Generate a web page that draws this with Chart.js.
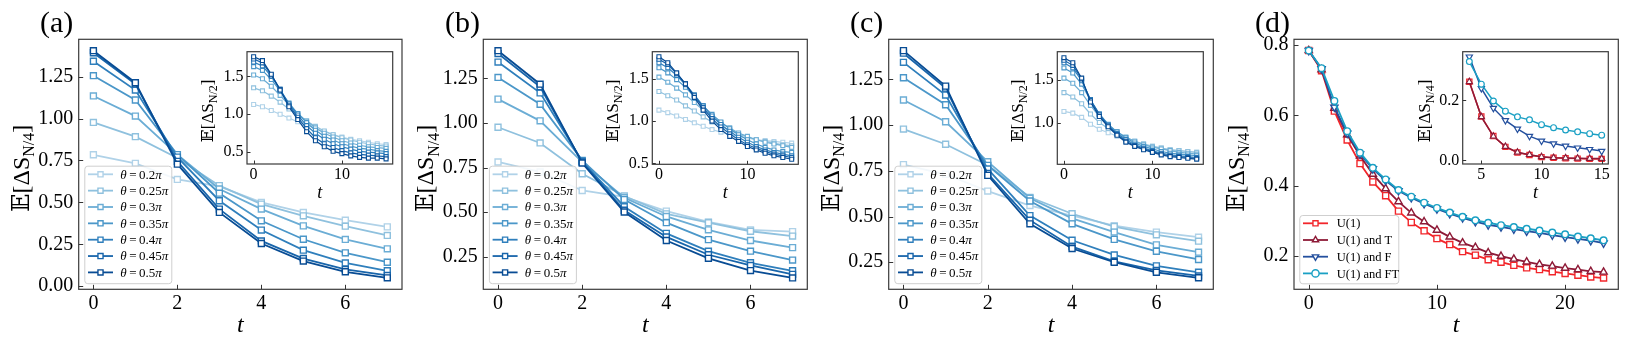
<!DOCTYPE html>
<html><head><meta charset="utf-8">
<script src="https://cdn.jsdelivr.net/npm/chart.js@4.4.1/dist/chart.umd.min.js"></script>
<style>
html,body{margin:0;padding:0;background:#fff;width:1627px;height:346px;overflow:hidden;position:relative;}
canvas{position:absolute;}
</style></head><body>
<script>
const SERIF='"Liberation Serif","Times New Roman","DejaVu Serif","DejaVu Sans",serif';

// ---------- data ----------
const thetaLabels=['0.2','0.25','0.3','0.35','0.4','0.45','0.5'];
const bluesColors=['#b0d2e8','#8fc1de','#6badd5','#4b97c9','#2f7fbc','#1865ab','#084c94'];
const tMain=[0,1,2,3,4,5,6,7];
const tInset=[0,1,2,3,4,5,6,7,8,9,10,11,12,13,14,15];
const tD=[0,1,2,3,4,5,6,7,8,9,10,11,12,13,14,15,16,17,18,19,20,21,22,23];
const tDInset=[4,5,6,7,8,9,10,11,12,13,14,15];

const mainA=[
 [0.784,0.733,0.637,0.595,0.500,0.440,0.394,0.354],
 [0.977,0.892,0.765,0.600,0.490,0.420,0.358,0.303],
 [1.135,1.015,0.785,0.580,0.460,0.360,0.279,0.223],
 [1.256,1.111,0.785,0.555,0.390,0.280,0.199,0.143],
 [1.342,1.170,0.770,0.510,0.335,0.215,0.139,0.092],
 [1.393,1.206,0.745,0.460,0.270,0.165,0.100,0.064],
 [1.405,1.214,0.728,0.440,0.255,0.150,0.086,0.050]];
const insetA=[
 [1.13,1.10,1.05,1.00,0.95,0.90,0.86,0.81,0.77,0.73,0.70,0.67,0.65,0.63,0.61,0.60],
 [1.35,1.31,1.24,1.16,1.07,0.99,0.91,0.84,0.78,0.73,0.69,0.66,0.63,0.61,0.59,0.58],
 [1.52,1.47,1.37,1.25,1.12,1.01,0.91,0.82,0.75,0.70,0.65,0.62,0.59,0.57,0.56,0.55],
 [1.63,1.58,1.46,1.31,1.15,1.01,0.89,0.79,0.71,0.66,0.61,0.58,0.55,0.54,0.52,0.51],
 [1.69,1.64,1.50,1.33,1.14,0.99,0.85,0.75,0.67,0.61,0.57,0.54,0.51,0.50,0.49,0.48],
 [1.73,1.68,1.52,1.33,1.12,0.96,0.81,0.69,0.61,0.56,0.52,0.49,0.47,0.46,0.45,0.44],
 [1.76,1.71,1.53,1.32,1.10,0.93,0.77,0.65,0.57,0.51,0.48,0.45,0.43,0.42,0.42,0.41]];
const mainB=[
 [0.781,0.725,0.621,0.585,0.505,0.445,0.400,0.390],
 [0.976,0.888,0.715,0.590,0.490,0.440,0.392,0.365],
 [1.134,1.012,0.780,0.580,0.475,0.400,0.340,0.300],
 [1.256,1.105,0.790,0.570,0.440,0.345,0.280,0.230],
 [1.342,1.169,0.785,0.530,0.380,0.280,0.215,0.170],
 [1.390,1.203,0.780,0.510,0.360,0.260,0.200,0.150],
 [1.406,1.218,0.775,0.500,0.340,0.240,0.171,0.130]];
const insetB=[
 [1.13,1.10,1.06,1.02,0.98,0.94,0.90,0.87,0.84,0.82,0.80,0.78,0.77,0.76,0.75,0.74],
 [1.35,1.30,1.25,1.18,1.12,1.05,0.99,0.94,0.89,0.85,0.81,0.78,0.76,0.74,0.72,0.71],
 [1.52,1.46,1.39,1.31,1.22,1.13,1.05,0.98,0.92,0.86,0.82,0.78,0.75,0.73,0.71,0.69],
 [1.63,1.57,1.49,1.40,1.29,1.18,1.08,0.99,0.91,0.84,0.78,0.73,0.69,0.66,0.64,0.63],
 [1.69,1.63,1.54,1.43,1.31,1.18,1.06,0.96,0.88,0.81,0.75,0.70,0.66,0.63,0.61,0.59],
 [1.73,1.67,1.56,1.44,1.30,1.16,1.03,0.93,0.85,0.78,0.72,0.68,0.64,0.61,0.59,0.57],
 [1.76,1.69,1.57,1.44,1.28,1.13,1.00,0.90,0.82,0.76,0.70,0.66,0.62,0.59,0.57,0.55]];
const mainC=[
 [0.784,0.731,0.639,0.560,0.505,0.450,0.415,0.387],
 [0.978,0.895,0.780,0.605,0.515,0.445,0.400,0.365],
 [1.137,1.018,0.800,0.600,0.490,0.415,0.345,0.305],
 [1.259,1.111,0.780,0.585,0.460,0.375,0.310,0.265],
 [1.343,1.164,0.760,0.505,0.370,0.290,0.230,0.195],
 [1.393,1.202,0.735,0.480,0.335,0.255,0.205,0.175],
 [1.407,1.213,0.725,0.460,0.325,0.250,0.195,0.165]];
const insetC=[
 [1.13,1.11,1.06,0.98,0.92,0.88,0.84,0.80,0.77,0.74,0.72,0.70,0.68,0.67,0.66,0.65],
 [1.35,1.30,1.22,1.10,1.00,0.93,0.87,0.82,0.78,0.75,0.72,0.70,0.68,0.67,0.66,0.65],
 [1.52,1.46,1.35,1.20,1.07,0.97,0.89,0.83,0.78,0.74,0.71,0.69,0.67,0.65,0.64,0.63],
 [1.64,1.58,1.45,1.26,1.10,0.98,0.89,0.82,0.76,0.72,0.69,0.66,0.64,0.63,0.62,0.61],
 [1.70,1.64,1.49,1.27,1.10,0.97,0.87,0.80,0.74,0.70,0.67,0.64,0.62,0.61,0.60,0.59],
 [1.73,1.67,1.51,1.26,1.09,0.96,0.86,0.78,0.73,0.69,0.66,0.63,0.61,0.60,0.59,0.58],
 [1.76,1.70,1.52,1.24,1.07,0.95,0.85,0.77,0.72,0.68,0.65,0.62,0.60,0.59,0.58,0.57]];

const dLabels=['U(1)','U(1) and T','U(1) and F','U(1) and FT'];
const dColors=['#f2262b','#8e1a37','#24509e','#1aa0c4'];
const dMarkers=['rect','triangle','triangle','circle'];
const dRotations=[0,0,180,0];
const mainD=[
 [0.784,0.727,0.612,0.530,0.463,0.411,0.372,0.328,0.296,0.272,0.250,0.233,0.213,0.203,0.190,0.183,0.174,0.167,0.162,0.156,0.151,0.146,0.141,0.138],
 [0.784,0.730,0.620,0.545,0.485,0.433,0.392,0.355,0.323,0.298,0.274,0.255,0.238,0.225,0.210,0.200,0.192,0.184,0.177,0.172,0.166,0.162,0.157,0.155],
 [0.784,0.732,0.623,0.549,0.490,0.448,0.415,0.386,0.366,0.349,0.334,0.321,0.309,0.298,0.289,0.283,0.277,0.271,0.266,0.260,0.254,0.249,0.244,0.237],
 [0.784,0.734,0.641,0.555,0.494,0.451,0.418,0.388,0.369,0.352,0.337,0.324,0.312,0.302,0.295,0.288,0.283,0.278,0.273,0.267,0.262,0.256,0.251,0.245]];
const insetD=[
 [0.262,0.146,0.081,0.045,0.026,0.018,0.011,0.009,0.007,0.006,0.005,0.005],
 [0.262,0.145,0.080,0.046,0.027,0.019,0.012,0.009,0.008,0.007,0.006,0.006],
 [0.345,0.240,0.174,0.133,0.105,0.081,0.065,0.056,0.048,0.042,0.037,0.031],
 [0.329,0.254,0.198,0.164,0.145,0.135,0.119,0.109,0.101,0.095,0.089,0.084]];

// tick values
const ticksMainAY=[0,0.25,0.5,0.75,1.0,1.25];
const ticksMainBY=[0.25,0.5,0.75,1.0,1.25];
const ticksMainX=[0,2,4,6];
const ticksInsetY=[0.5,1.0,1.5];
const ticksInsetCY=[1.0,1.5];
const ticksInsetX=[0,10];
const ticksDY=[0.2,0.4,0.6,0.8];
const ticksDX=[0,10,20];
const ticksDInsetY=[0.0,0.2];
const ticksDInsetX=[5,10,15];

// ---------- helpers ----------
function drawRich(ctx,segs,x,y,align){
  let total=0;
  segs.forEach(s=>{ctx.font=s.f; s.w=ctx.measureText(s.t).width; total+=s.w;});
  let cx = align==='center'? x-total/2 : x;
  ctx.textAlign='left';
  segs.forEach(s=>{ctx.font=s.f; ctx.fillText(s.t,cx,y+(s.dy||0)); cx+=s.w;});
}
function yTitleSegs(sub,size,subSize){
  return [{t:'𝔼[ΔS',f:size+'px '+SERIF},{t:sub,f:subSize+'px '+SERIF,dy:size*0.22},{t:']',f:size+'px '+SERIF}];
}
function makeDeco(d,cx,cy){
  return {id:'deco',
    beforeDraw(ch){
      if(d.bg){const a=ch.chartArea,ctx=ch.ctx;ctx.save();ctx.fillStyle='#fff';ctx.fillRect(a.left,a.top,a.right-a.left,a.bottom-a.top);ctx.restore();}
    },
    afterDraw(ch){
      const a=ch.chartArea,ctx=ch.ctx,xs=ch.scales.x,ys=ch.scales.y;
      ctx.save();
      // inward ticks
      ctx.strokeStyle='#333';ctx.lineWidth=1;
      ctx.beginPath();
      xs.ticks.forEach(t=>{const p=Math.round(xs.getPixelForValue(t.value))+0.5;ctx.moveTo(p,a.bottom);ctx.lineTo(p,a.bottom-d.tl);});
      ys.ticks.forEach(t=>{const p=Math.round(ys.getPixelForValue(t.value))+0.5;ctx.moveTo(a.left,p);ctx.lineTo(a.left+d.tl,p);});
      ctx.stroke();
      // frame
      ctx.lineWidth=1.2;ctx.strokeStyle='#3a3a3a';
      ctx.strokeRect(a.left,a.top,a.right-a.left,a.bottom-a.top);
      ctx.fillStyle='#000';
      // y title
      ctx.save();
      ctx.translate(a.left+d.ytDx,(a.top+a.bottom)/2+d.ytDy);
      ctx.rotate(-Math.PI/2);
      ctx.textBaseline='alphabetic';
      drawRich(ctx,yTitleSegs(d.ytSub,d.ytSize,d.ytSubSize),0,d.ytSize*0.33,'center');
      ctx.restore();
      // x title
      ctx.font='italic '+d.xtSize+'px '+SERIF;ctx.textAlign='center';ctx.textBaseline='alphabetic';
      ctx.fillText('t',(a.left+a.right)/2,a.bottom+d.xtDy);
      // panel label
      if(d.label){ctx.font='30px '+SERIF;ctx.textAlign='left';ctx.fillText(d.label[0],d.label[1]-cx,d.label[2]-cy);}
      // legend
      if(d.legend){
        const L=d.legend,x0=a.left+L.dx,y0=L.top-cy;
        ctx.beginPath();
        if(ctx.roundRect) ctx.roundRect(x0+0.5,y0+0.5,L.w,L.h,3); else ctx.rect(x0+0.5,y0+0.5,L.w,L.h);
        ctx.fillStyle='rgba(255,255,255,0.85)';ctx.fill();
        ctx.lineWidth=1;ctx.strokeStyle='#cfcfcf';ctx.stroke();
        ch.data.datasets.forEach((ds,i)=>{
          const yy=y0+L.row0+i*L.rowH;
          ctx.strokeStyle=ds.borderColor;ctx.lineWidth=ds.borderWidth;
          ctx.beginPath();ctx.moveTo(a.left+L.l0,yy);ctx.lineTo(a.left+L.l1,yy);ctx.stroke();
          ctx.fillStyle='#fff';ctx.lineWidth=ds.pointBorderWidth;
          Chart.helpers.drawPoint(ctx,{pointStyle:ds.pointStyle,rotation:ds.pointRotation||0,radius:L.r,borderWidth:ds.pointBorderWidth},a.left+(L.l0+L.l1)/2,yy);
          ctx.fillStyle='#000';ctx.textBaseline='alphabetic';
          drawRich(ctx,L.labels[i],a.left+L.tx,yy+L.fs*0.33,'left');
        });
      }
      ctx.restore();
    }};
}
function makeChart(s){
  const c=document.createElement('canvas');
  c.width=s.canvas.w;c.height=s.canvas.h;
  c.style.left=s.canvas.x+'px';c.style.top=s.canvas.y+'px';
  c.style.width=s.canvas.w+'px';c.style.height=s.canvas.h+'px';
  document.body.appendChild(c);
  const leftW=s.plot.l-s.canvas.x, bottomH=s.canvas.y+s.canvas.h-s.plot.b;
  const padTop=s.plot.t-s.canvas.y, padRight=s.canvas.x+s.canvas.w-s.plot.r;
  new Chart(c,{type:'line',data:{datasets:s.datasets},
    options:{responsive:false,animation:false,devicePixelRatio:1,events:[],
      layout:{padding:{top:padTop,right:padRight,left:0,bottom:0}},
      plugins:{legend:{display:false},tooltip:{enabled:false}},
      scales:{
        x:{type:'linear',min:s.xr[0],max:s.xr[1],grid:{display:false,drawTicks:false},border:{display:false},
           ticks:{autoSkip:false,maxRotation:0,color:'#000',font:{family:SERIF,size:s.fs},padding:s.xpad,callback:v=>v.toFixed(s.xdec)},
           afterBuildTicks:sc=>{sc.ticks=s.xticks.map(v=>({value:v}));},
           afterFit:sc=>{sc.height=bottomH;}},
        y:{type:'linear',min:s.yr[0],max:s.yr[1],grid:{display:false,drawTicks:false},border:{display:false},
           ticks:{autoSkip:false,color:'#000',font:{family:SERIF,size:s.fs},padding:s.ypad,callback:v=>v.toFixed(s.ydec)},
           afterBuildTicks:sc=>{sc.ticks=s.yticks.map(v=>({value:v}));},
           afterFit:sc=>{sc.width=leftW;}}
      }},
    plugins:[makeDeco(s.deco,s.canvas.x,s.canvas.y)]});
}
function pts(xs,ys){return xs.map((x,i)=>({x:x,y:ys[i]}));}
function blueSets(rows,xs,lw,r,pbw){
  return rows.map((row,i)=>({label:thetaLabels[i],data:pts(xs,row),borderColor:bluesColors[i],backgroundColor:bluesColors[i],
    borderWidth:lw,pointStyle:'rect',pointRadius:r,pointBorderWidth:pbw,pointBackgroundColor:'#fff',pointBorderColor:bluesColors[i],order:7-i,tension:0}));
}
function dSets(rows,xs,lw,rs,pbw){
  return rows.map((row,i)=>({label:dLabels[i],data:pts(xs,row),borderColor:dColors[i],backgroundColor:dColors[i],
    borderWidth:lw,pointStyle:dMarkers[i],pointRotation:dRotations[i],pointRadius:rs[i],pointBorderWidth:pbw,
    pointBackgroundColor:'#fff',pointBorderColor:dColors[i],order:4-i,tension:0}));
}
const thetaLegendLabels=thetaLabels.map(v=>[{t:'θ',f:'italic 13px '+SERIF},{t:'\u2009=\u2009'+v,f:'13px '+SERIF},{t:'π',f:'italic 13px '+SERIF}]);
const dLegendLabels=dLabels.map(v=>[{t:v,f:'12.5px '+SERIF}]);
const blueLegend={dx:5.6,top:165.7,w:87,h:117.5,row0:8.6,rowH:16.35,l0:9.3,l1:34.3,tx:41.5,r:3.6,fs:13,labels:thetaLegendLabels};
const dLegend={dx:5.3,top:215,w:99,h:68.3,row0:8.3,rowH:16.7,l0:9,l1:34,tx:42.7,r:3.6,fs:12.5,labels:dLegendLabels};

function mainDeco(label,legend){return {tl:4.5,ytDx:-58,ytDy:4,ytSub:'N/4',ytSize:24,ytSubSize:16,xtSize:24,xtDy:43,label:label,legend:legend};}
function insetDeco(sub,dx){return {bg:true,tl:3.5,ytDx:dx,ytDy:3,ytSub:sub,ytSize:17,ytSubSize:12,xtSize:18,xtDy:34};}

// ---------- panels ----------
const mainPanels=[
 {x:0,w:410,l:78.7,r:402,rows:mainA,yr:[-0.0185,1.473],yt:ticksMainAY,lab:['(a)',40,32]},
 {x:410,w:405,l:483.3,r:807.3,rows:mainB,yr:[0.066,1.470],yt:ticksMainBY,lab:['(b)',445,32]},
 {x:815,w:405,l:888.7,r:1213.3,rows:mainC,yr:[0.102,1.469],yt:ticksMainBY,lab:['(c)',850,32]}];
mainPanels.forEach(p=>{
  makeChart({canvas:{x:p.x,y:0,w:p.w,h:346},plot:{l:p.l,t:39.3,r:p.r,b:289.3},xr:[-0.35,7.35],yr:p.yr,
    xticks:ticksMainX,yticks:p.yt,xdec:0,ydec:2,fs:20,xpad:2,ypad:5.5,
    datasets:blueSets(p.rows,tMain,1.8,4.2,1.4),deco:mainDeco(p.lab,blueLegend)});
});
makeChart({canvas:{x:1220,y:0,w:407,h:346},plot:{l:1294,t:39.3,r:1618.3,b:289.3},xr:[-1.15,24.15],yr:[0.106,0.816],
  xticks:ticksDX,yticks:ticksDY,xdec:0,ydec:1,fs:20,xpad:2,ypad:5.5,
  datasets:dSets(mainD,tD,1.8,[4.3,4.2,4.2,3.3],1.4),deco:mainDeco(['(d)',1255,32],dLegend)});

const insetPanels=[
 {x:185,l:247,r:392.7,b:164,rows:insetA,yr:[0.3425,1.8275],yt:ticksInsetY},
 {x:590,l:652.3,r:798.3,b:164.3,rows:insetB,yr:[0.49,1.82],yt:ticksInsetY},
 {x:995,l:1057.3,r:1203.3,b:164.3,rows:insetC,yr:[0.51,1.83],yt:ticksInsetCY}];
insetPanels.forEach(p=>{
  makeChart({canvas:{x:p.x,y:38,w:215,h:172},plot:{l:p.l,t:51.7,r:p.r,b:p.b},xr:[-0.75,15.75],yr:p.yr,
    xticks:ticksInsetX,yticks:p.yt,xdec:0,ydec:1,fs:16,xpad:1,ypad:3.5,
    datasets:blueSets(p.rows,tInset,1.2,2.8,1.1),deco:insetDeco('N/2',-39.5)});
});
makeChart({canvas:{x:1400,y:38,w:215,h:172},plot:{l:1462.7,t:51.7,r:1608.3,b:164},xr:[3.45,15.55],yr:[-0.012,0.362],
  xticks:ticksDInsetX,yticks:ticksDInsetY,xdec:0,ydec:1,fs:16,xpad:1,ypad:3.5,
  datasets:dSets(insetD,tDInset,1.5,[3.7,3.6,3.6,2.9],1.2),deco:insetDeco('N/4',-38)});
</script>
</body></html>
